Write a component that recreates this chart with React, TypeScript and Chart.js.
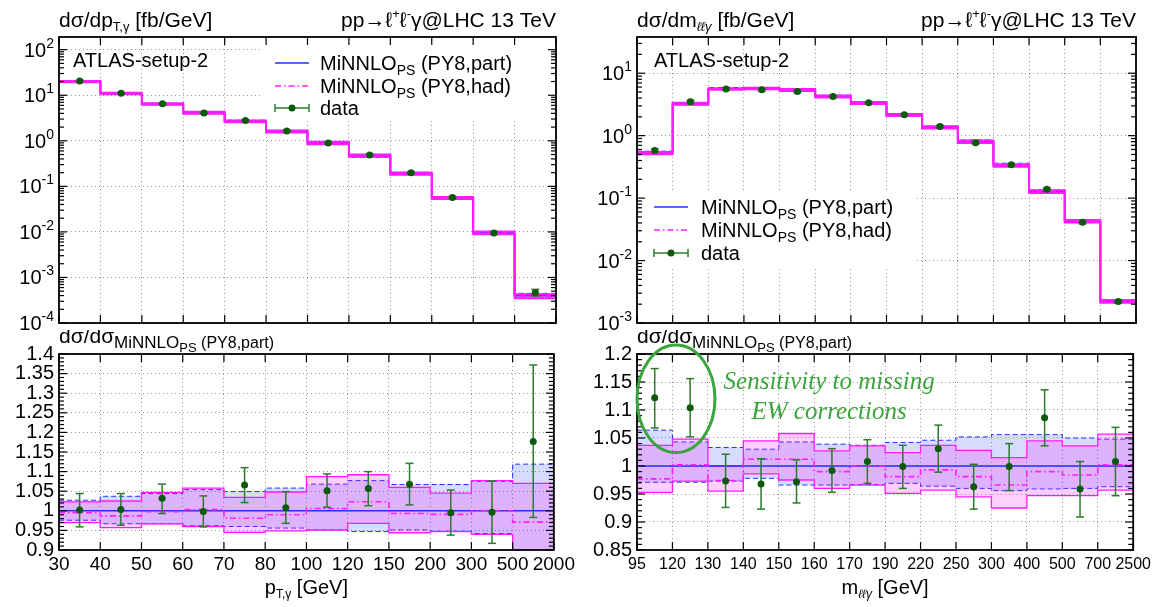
import React, { useEffect, useRef } from "react";
import { Chart, registerables } from "chart.js";

Chart.register(...registerables);

const SANS = '"Liberation Sans", Arial, Helvetica, sans-serif';
const SERIF = '"Liberation Serif", "DejaVu Serif", serif';
Chart.defaults.font.family = SANS;

// ---------------- p_T,gamma distribution ----------------
const ptEdges = ["30", "40", "50", "60", "70", "80", "100", "120", "150", "200", "300", "500", "2000"];
const ptPart = [20, 11, 6.4, 4.1, 2.7, 1.6, 0.88, 0.46, 0.19, 0.056, 0.0095, 0.0004];
const ptDataAbs = [20.5, 11, 6.5, 4.1, 2.8, 1.65, 0.9, 0.49, 0.2, 0.057, 0.0095, 0.00047];
const ptBlueHi = [1.027, 1.037, 1.044, 1.054, 1.049, 1.058, 1.068, 1.077, 1.067, 1.067, 1.075, 1.119];
const ptBlueLo = [0.976, 0.967, 0.967, 0.962, 0.96, 0.956, 0.951, 0.947, 0.951, 0.948, 0.942, 0.88];
const ptMagHi = [1.023, 1.025, 1.047, 1.058, 1.034, 1.048, 1.087, 1.092, 1.06, 1.045, 1.077, 1.07];
const ptMagLo = [0.97, 0.957, 0.967, 0.96, 0.945, 0.949, 0.951, 0.968, 0.944, 0.947, 0.94, 0.87];
const ptHad = [0.995, 0.987, 0.998, 1.003, 0.981, 0.99, 1.006, 1.023, 0.993, 0.991, 1.0, 0.971];
const ptRatio = [1.002, 1.003, 1.032, 0.998, 1.066, 1.008, 1.051, 1.057, 1.068, 0.995, 0.996, 1.177];
const ptRatioHi = [1.044, 1.044, 1.068, 1.038, 1.11, 1.049, 1.094, 1.1, 1.121, 1.053, 1.076, 1.372];
const ptRatioLo = [0.959, 0.963, 0.993, 0.959, 1.021, 0.968, 1.009, 1.013, 1.015, 0.938, 0.917, 0.983];
const ptLogTicks = [1e-4, 1e-3, 1e-2, 1e-1, 1, 10, 100];
const ptRatioTicks = [0.9, 0.95, 1, 1.05, 1.1, 1.15, 1.2, 1.25, 1.3, 1.35, 1.4];

// ---------------- m_llgamma distribution ----------------
const mEdges = ["95", "120", "130", "140", "150", "160", "170", "190", "220", "250", "300", "400", "500", "700", "2500"];
const mPart = [0.53, 3.2, 5.7, 5.6, 5.3, 4.27, 3.34, 2.17, 1.36, 0.81, 0.343, 0.128, 0.043, 0.0022];
const mDataAbs = [0.58, 3.5, 5.6, 5.45, 5.1, 4.25, 3.35, 2.17, 1.4, 0.77, 0.343, 0.139, 0.041, 0.0022];
const mBlueHi = [1.064, 1.043, 1.033, 1.03, 1.043, 1.039, 1.037, 1.042, 1.046, 1.052, 1.056, 1.056, 1.05, 1.048];
const mBlueLo = [0.971, 0.971, 0.973, 0.978, 0.966, 0.966, 0.967, 0.969, 0.964, 0.96, 0.956, 0.959, 0.96, 0.963];
const mMagHi = [1.037, 1.048, 1.0, 1.045, 1.058, 1.027, 1.036, 1.024, 1.037, 1.028, 1.015, 1.045, 1.036, 1.057];
const mMagLo = [0.953, 0.973, 0.955, 0.986, 0.975, 0.96, 0.966, 0.951, 0.957, 0.945, 0.925, 0.947, 0.947, 0.957];
const mHad = [0.977, 1.002, 0.974, 1.012, 1.012, 0.99, 1.0, 0.981, 0.993, 0.981, 0.966, 0.99, 0.984, 1.002];
const mRatio = [1.122, 1.104, 0.973, 0.968, 0.972, 0.992, 1.008, 0.999, 1.031, 0.963, 0.999, 1.086, 0.959, 1.008];
const mRatioHi = [1.174, 1.156, 1.021, 1.013, 1.011, 1.031, 1.047, 1.037, 1.073, 1.003, 1.04, 1.136, 1.008, 1.069];
const mRatioLo = [1.068, 1.052, 0.926, 0.923, 0.934, 0.953, 0.969, 0.96, 0.989, 0.923, 0.956, 1.036, 0.909, 0.947];
const mLogTicks = [1e-3, 1e-2, 1e-1, 1, 10];
const mRatioTicks = [0.85, 0.9, 0.95, 1, 1.05, 1.1, 1.15, 1.2];

const REF_RATIO = 1;

// ---------------- styles ----------------
const BLUE = "#2430ff";
const MAG = "#ff1cff";
const BLUE_FILL = "rgba(0,40,255,0.16)";
const MAG_FILL = "rgba(255,0,255,0.19)";
const GRID = "rgba(0,0,0,0.4)";
const DGREEN = "#0b5a0b";
const EGREEN = "#2c7a2c";
const ANN = "#3aa53a";

type Run = { t: string; size: number; dy?: number; italic?: boolean; family?: string };

function fontOf(r: Run) {
  return `${r.italic ? "italic " : ""}${r.size}px ${r.family || SANS}`;
}

function drawRuns(ctx: CanvasRenderingContext2D, x: number, y: number, runs: Run[], align = "left", color = "#000") {
  ctx.save();
  ctx.fillStyle = color;
  ctx.textAlign = "left";
  ctx.textBaseline = "alphabetic";
  let w = 0;
  for (const r of runs) {
    ctx.font = fontOf(r);
    w += ctx.measureText(r.t).width;
  }
  let cx = align === "left" ? x : align === "right" ? x - w : x - w / 2;
  for (const r of runs) {
    ctx.font = fontOf(r);
    ctx.fillText(r.t, cx, y + (r.dy || 0));
    cx += ctx.measureText(r.t).width;
  }
  ctx.restore();
}

function seg(ctx: CanvasRenderingContext2D, x0: number, y0: number, x1: number, y1: number) {
  ctx.beginPath();
  ctx.moveTo(x0, y0);
  ctx.lineTo(x1, y1);
  ctx.stroke();
}

const minnlo = (tail: string): Run[] => [
  { t: "MiNNLO", size: 20 },
  { t: "PS", size: 14, dy: 5 },
  { t: " " + tail, size: 20 },
];

function drawLegend(ctx: CanvasRenderingContext2D, x0: number, x1: number, tx: number, rows: number[]) {
  ctx.save();
  ctx.lineWidth = 1.6;
  ctx.strokeStyle = BLUE;
  ctx.setLineDash([]);
  seg(ctx, x0, rows[0], x1, rows[0]);
  ctx.strokeStyle = MAG;
  ctx.setLineDash([6, 3, 1.5, 3]);
  seg(ctx, x0, rows[1], x1, rows[1]);
  ctx.setLineDash([]);
  ctx.strokeStyle = EGREEN;
  ctx.lineWidth = 1.5;
  seg(ctx, x0, rows[2], x1, rows[2]);
  seg(ctx, x0, rows[2] - 4, x0, rows[2] + 4);
  seg(ctx, x1, rows[2] - 4, x1, rows[2] + 4);
  ctx.fillStyle = DGREEN;
  ctx.beginPath();
  ctx.arc((x0 + x1) / 2, rows[2], 3.5, 0, Math.PI * 2);
  ctx.fill();
  ctx.restore();
  drawRuns(ctx, tx, rows[0] + 7, minnlo("(PY8,part)"));
  drawRuns(ctx, tx, rows[1] + 7, minnlo("(PY8,had)"));
  drawRuns(ctx, tx, rows[2] + 7, [{ t: "data", size: 20 }]);
}

const procTitle: Run[] = [
  { t: "pp", size: 21 },
  { t: "\u2192", size: 21 },
  { t: "\u2113", size: 21 },
  { t: "+", size: 13, dy: -9 },
  { t: "\u2113", size: 21 },
  { t: "-", size: 13, dy: -9 },
  { t: "\u03b3@LHC 13 TeV", size: 21 },
];

const ratioTitle: Run[] = [
  { t: "d\u03c3/d\u03c3", size: 21 },
  { t: "MiNNLO", size: 17, dy: 5 },
  { t: "PS", size: 13, dy: 9 },
  { t: " (PY8,part)", size: 16, dy: 5 },
];

interface Spec {
  edges: string[];
  log: boolean;
  yMin: number;
  yMax: number;
  yTicks: number[];
  minor: number;
  central?: number[];
  refLine?: number;
  blueHi: number[];
  blueLo: number[];
  magHi: number[];
  magLo: number[];
  had: number[];
  data: number[];
  dataHi: number[];
  dataLo: number[];
  thick: boolean;
  xLabels: boolean;
  xFont: number;
  xPad: number;
  pad: { top: number; right: number; bottom: number; left: number };
  yWidth: number;
  xHeight: number;
  boxes?: (a: any) => number[][];
  decorate: (ctx: CanvasRenderingContext2D, chart: any) => void;
}

const mul = (a: number[], r: number[]) => a.map((v, i) => v * r[i]);

function buildConfig(p: Spec): any {
  const n = p.edges.length - 1;
  const steps = (vals: number[]) => vals.flatMap((v, i) => [{ x: i, y: v }, { x: i + 1, y: v }]);
  const line = (data: any[], color: string, width: number, dash: number[], fill: any, bg: string, order: number) => ({
    type: "line",
    data,
    borderColor: color,
    borderWidth: width,
    borderDash: dash,
    pointRadius: 0,
    pointHitRadius: 0,
    fill,
    backgroundColor: bg,
    order,
    clip: 0,
    tension: 0,
  });
  const centralData = p.central ? steps(p.central) : [{ x: 0, y: p.refLine }, { x: n, y: p.refLine }];
  const magW = p.thick ? 2 : 1.3;
  const datasets: any[] = [
    line(steps(p.blueHi), BLUE, 1, [5, 3], "+1", BLUE_FILL, 10),
    line(steps(p.blueLo), BLUE, 1, [5, 3], false, "transparent", 9),
    line(steps(p.magHi), MAG, magW, [], "+1", MAG_FILL, 8),
    line(steps(p.magLo), MAG, magW, [], false, "transparent", 7),
    line(centralData, BLUE, 1.6, [], false, "transparent", p.thick ? 9.5 : 3),
    line(steps(p.had), MAG, 1.6, [6, 3, 1.5, 3], false, "transparent", 2),
    {
      type: "line",
      data: p.data.map((v, i) => ({ x: i + 0.5, y: v })),
      showLine: false,
      pointRadius: 3.5,
      pointBackgroundColor: DGREEN,
      pointBorderColor: DGREEN,
      pointBorderWidth: 0,
      order: 1,
      clip: false,
    },
  ];
  const DATA_IDX = 6;

  const plugin = {
    id: "deco",
    beforeDatasetsDraw(chart: any) {
      const a = chart.chartArea;
      const ctx = chart.ctx;
      (p.boxes ? p.boxes(a) : []).forEach(([x, y, w, h]) => {
        ctx.save();
        ctx.fillStyle = "#fff";
        ctx.fillRect(x, y, w, h);
        ctx.restore();
      });
    },
    beforeDatasetDraw(chart: any, args: any) {
      if (args.index !== DATA_IDX) return;
      const ctx = chart.ctx;
      const xs = chart.scales.x;
      const ys = chart.scales.y;
      ctx.save();
      ctx.strokeStyle = EGREEN;
      ctx.lineWidth = 1.5;
      p.data.forEach((_, i) => {
        const px = xs.getPixelForValue(i + 0.5);
        const yh = ys.getPixelForValue(p.dataHi[i]);
        const yl = ys.getPixelForValue(p.dataLo[i]);
        seg(ctx, px, yh, px, yl);
        seg(ctx, px - 4, yh, px + 4, yh);
        seg(ctx, px - 4, yl, px + 4, yl);
      });
      ctx.restore();
    },
    afterDraw(chart: any) {
      const ctx = chart.ctx;
      const a = chart.chartArea;
      const xs = chart.scales.x;
      const ys = chart.scales.y;
      ctx.save();
      ctx.strokeStyle = "#000";
      ctx.lineWidth = 1.2;
      ctx.setLineDash([]);
      for (let i = 0; i <= n; i++) {
        const px = xs.getPixelForValue(i);
        seg(ctx, px, a.bottom, px, a.bottom - 8);
        seg(ctx, px, a.top, px, a.top + 8);
      }
      const yTick = (v: number, len: number) => {
        const py = ys.getPixelForValue(v);
        seg(ctx, a.left, py, a.left + len, py);
        seg(ctx, a.right, py, a.right - len, py);
      };
      p.yTicks.forEach((v) => yTick(v, 8));
      if (p.log) {
        const k0 = Math.floor(Math.log10(p.yMin));
        const k1 = Math.ceil(Math.log10(p.yMax));
        for (let k = k0; k <= k1; k++) {
          for (let m = 2; m <= 9; m++) {
            const v = m * Math.pow(10, k);
            if (v > p.yMin && v < p.yMax) yTick(v, 5);
          }
        }
      } else if (p.minor > 0) {
        const step = p.yTicks[1] - p.yTicks[0];
        for (let j = 0; j < p.yTicks.length - 1; j++) {
          for (let s = 1; s < p.minor; s++) yTick(p.yTicks[j] + (s * step) / p.minor, 5);
        }
      }
      ctx.lineWidth = 1.8;
      ctx.strokeRect(a.left, a.top, a.right - a.left, a.bottom - a.top);
      ctx.restore();
      if (p.log) {
        p.yTicks.forEach((v) => {
          const py = ys.getPixelForValue(v);
          const e = Math.round(Math.log10(v));
          drawRuns(ctx, a.left - 5, py + 7, [{ t: "10", size: 20 }, { t: String(e), size: 14, dy: -9 }], "right");
        });
      }
      p.decorate(ctx, chart);
    },
  };

  return {
    type: "line",
    data: { datasets },
    plugins: [plugin],
    options: {
      animation: false,
      responsive: false,
      events: [],
      layout: { padding: p.pad },
      plugins: { legend: { display: false }, tooltip: { enabled: false }, title: { display: false } },
      scales: {
        x: {
          type: "linear",
          min: 0,
          max: n,
          afterBuildTicks: (s: any) => {
            s.ticks = p.edges.map((_, i) => ({ value: i }));
          },
          afterFit: (s: any) => {
            s.height = p.xHeight;
          },
          ticks: {
            display: p.xLabels,
            autoSkip: false,
            maxRotation: 0,
            minRotation: 0,
            padding: p.xPad,
            color: "#000",
            font: { family: SANS, size: p.xFont },
            callback: (_v: any, i: number) => p.edges[i],
          },
          grid: { color: GRID, lineWidth: 1, drawTicks: false },
          border: { display: false, dash: [1, 3] },
        },
        y: {
          type: p.log ? "logarithmic" : "linear",
          min: p.yMin,
          max: p.yMax,
          afterBuildTicks: (s: any) => {
            s.ticks = p.yTicks.map((v) => ({ value: v }));
          },
          afterFit: (s: any) => {
            s.width = p.yWidth;
          },
          ticks: {
            display: !p.log,
            autoSkip: false,
            padding: 5,
            color: "#000",
            font: { family: SANS, size: 20 },
            callback: (v: any) => String(v),
          },
          grid: { color: GRID, lineWidth: 1, drawTicks: false },
          border: { display: false, dash: [1, 3] },
        },
      },
    },
  };
}

// ---------------- panel specs ----------------
const ptTop: Spec = {
  edges: ptEdges,
  log: true,
  yMin: 1e-4,
  yMax: 190,
  yTicks: ptLogTicks,
  minor: 0,
  central: ptPart,
  blueHi: mul(ptPart, ptBlueHi),
  blueLo: mul(ptPart, ptBlueLo),
  magHi: mul(ptPart, ptMagHi),
  magLo: mul(ptPart, ptMagLo),
  had: mul(ptPart, ptHad),
  data: ptDataAbs,
  dataHi: ptDataAbs.map((v, i) => (v * ptRatioHi[i]) / ptRatio[i]),
  dataLo: ptDataAbs.map((v, i) => (v * ptRatioLo[i]) / ptRatio[i]),
  thick: true,
  xLabels: false,
  xFont: 19,
  xPad: 3,
  pad: { top: 37, right: 22, bottom: 7, left: 0 },
  yWidth: 59,
  xHeight: 0,
  boxes: (a) => [[a.right - 296, a.top + 1, 295, 82]],
  decorate: (ctx, chart) => {
    const a = chart.chartArea;
    drawRuns(ctx, a.left, a.top - 10, [
      { t: "d\u03c3/dp", size: 21 },
      { t: "T,\u03b3", size: 13, dy: 4 },
      { t: " [fb/GeV]", size: 21 },
    ]);
    drawRuns(ctx, a.right, a.top - 10, procTitle, "right");
    drawRuns(ctx, a.left + 14, a.top + 30, [{ t: "ATLAS-setup-2", size: 20 }]);
    drawLegend(ctx, a.right - 281, a.right - 247, a.right - 236, [a.top + 26, a.top + 49, a.top + 71]);
  },
};

const ptBottom: Spec = {
  edges: ptEdges,
  log: false,
  yMin: 0.9,
  yMax: 1.4,
  yTicks: ptRatioTicks,
  minor: 5,
  refLine: REF_RATIO,
  blueHi: ptBlueHi,
  blueLo: ptBlueLo,
  magHi: ptMagHi,
  magLo: ptMagLo,
  had: ptHad,
  data: ptRatio,
  dataHi: ptRatioHi,
  dataLo: ptRatioLo,
  thick: false,
  xLabels: true,
  xFont: 19,
  xPad: 3,
  pad: { top: 24, right: 22, bottom: 0, left: 0 },
  yWidth: 59,
  xHeight: 57,
  decorate: (ctx, chart) => {
    const a = chart.chartArea;
    drawRuns(ctx, a.left, a.top - 11, ratioTitle);
    drawRuns(
      ctx,
      (a.left + a.right) / 2,
      a.bottom + 44,
      [
        { t: "p", size: 20 },
        { t: "T,\u03b3", size: 12, dy: 4 },
        { t: " [GeV]", size: 20 },
      ],
      "center"
    );
  },
};

const mTop: Spec = {
  edges: mEdges,
  log: true,
  yMin: 1e-3,
  yMax: 38,
  yTicks: mLogTicks,
  minor: 0,
  central: mPart,
  blueHi: mul(mPart, mBlueHi),
  blueLo: mul(mPart, mBlueLo),
  magHi: mul(mPart, mMagHi),
  magLo: mul(mPart, mMagLo),
  had: mul(mPart, mHad),
  data: mDataAbs,
  dataHi: mDataAbs.map((v, i) => (v * mRatioHi[i]) / mRatio[i]),
  dataLo: mDataAbs.map((v, i) => (v * mRatioLo[i]) / mRatio[i]),
  thick: true,
  xLabels: false,
  xFont: 16,
  xPad: 5,
  pad: { top: 37, right: 20, bottom: 7, left: 0 },
  yWidth: 59,
  xHeight: 0,
  boxes: (a) => [[a.left + 1, a.top + 156, 277, 74]],
  decorate: (ctx, chart) => {
    const a = chart.chartArea;
    drawRuns(ctx, a.left, a.top - 10, [
      { t: "d\u03c3/dm", size: 21 },
      { t: "\u2113\u2113\u03b3", size: 13, dy: 4, italic: true },
      { t: " [fb/GeV]", size: 21 },
    ]);
    drawRuns(ctx, a.right, a.top - 10, procTitle, "right");
    drawRuns(ctx, a.left + 17, a.top + 30, [{ t: "ATLAS-setup-2", size: 20 }]);
    drawLegend(ctx, a.left + 17, a.left + 51, a.left + 64, [a.top + 170, a.top + 193, a.top + 216]);
  },
};

// annotation placement in data units (bin index, ratio)
const ANN_ELLIPSE = { x: 1.1, y: 1.12, rx: 1.1, ry: 0.096 };
const ANN_LINES = [
  { t: "Sensitivity to missing", x: 5.42, y: 1.15 },
  { t: "EW corrections", x: 5.42, y: 1.0965 },
];

const mBottom: Spec = {
  edges: mEdges,
  log: false,
  yMin: 0.85,
  yMax: 1.2,
  yTicks: mRatioTicks,
  minor: 5,
  refLine: REF_RATIO,
  blueHi: mBlueHi,
  blueLo: mBlueLo,
  magHi: mMagHi,
  magLo: mMagLo,
  had: mHad,
  data: mRatio,
  dataHi: mRatioHi,
  dataLo: mRatioLo,
  thick: false,
  xLabels: true,
  xFont: 16,
  xPad: 5,
  pad: { top: 24, right: 20, bottom: 0, left: 0 },
  yWidth: 59,
  xHeight: 57,
  decorate: (ctx, chart) => {
    const a = chart.chartArea;
    const xs = chart.scales.x;
    const ys = chart.scales.y;
    drawRuns(ctx, a.left, a.top - 11, ratioTitle);
    drawRuns(
      ctx,
      (a.left + a.right) / 2,
      a.bottom + 44,
      [
        { t: "m", size: 20 },
        { t: "\u2113\u2113\u03b3", size: 12, dy: 4, italic: true },
        { t: " [GeV]", size: 20 },
      ],
      "center"
    );
    const cx = xs.getPixelForValue(ANN_ELLIPSE.x);
    const cy = ys.getPixelForValue(ANN_ELLIPSE.y);
    const rx = xs.getPixelForValue(ANN_ELLIPSE.x + ANN_ELLIPSE.rx) - cx;
    const ry = cy - ys.getPixelForValue(ANN_ELLIPSE.y + ANN_ELLIPSE.ry);
    ctx.save();
    ctx.strokeStyle = ANN;
    ctx.lineWidth = 3;
    ctx.beginPath();
    ctx.ellipse(cx, cy, rx, ry, 0, 0, Math.PI * 2);
    ctx.stroke();
    ctx.restore();
    ANN_LINES.forEach((l) => {
      drawRuns(
        ctx,
        xs.getPixelForValue(l.x),
        ys.getPixelForValue(l.y) + 7,
        [{ t: l.t, size: 25, italic: true, family: SERIF }],
        "center",
        ANN
      );
    });
  },
};

function Panel({ spec, left, top, width, height }: { spec: Spec; left: number; top: number; width: number; height: number }) {
  const ref = useRef<HTMLCanvasElement>(null);
  useEffect(() => {
    const chart = new Chart(ref.current as HTMLCanvasElement, buildConfig(spec));
    return () => chart.destroy();
  }, [spec]);
  return (
    <canvas
      ref={ref}
      width={width}
      height={height}
      style={{ position: "absolute", left, top, width, height, display: "block" }}
    />
  );
}

export default function App() {
  return (
    <div
      style={{
        position: "fixed",
        left: 0,
        top: 0,
        width: 1156,
        height: 607,
        background: "#fff",
        overflow: "hidden",
      }}
    >
      <Panel spec={ptTop} left={0} top={0} width={578} height={330} />
      <Panel spec={ptBottom} left={0} top={330} width={578} height={277} />
      <Panel spec={mTop} left={578} top={0} width={578} height={330} />
      <Panel spec={mBottom} left={578} top={330} width={578} height={277} />
    </div>
  );
}
